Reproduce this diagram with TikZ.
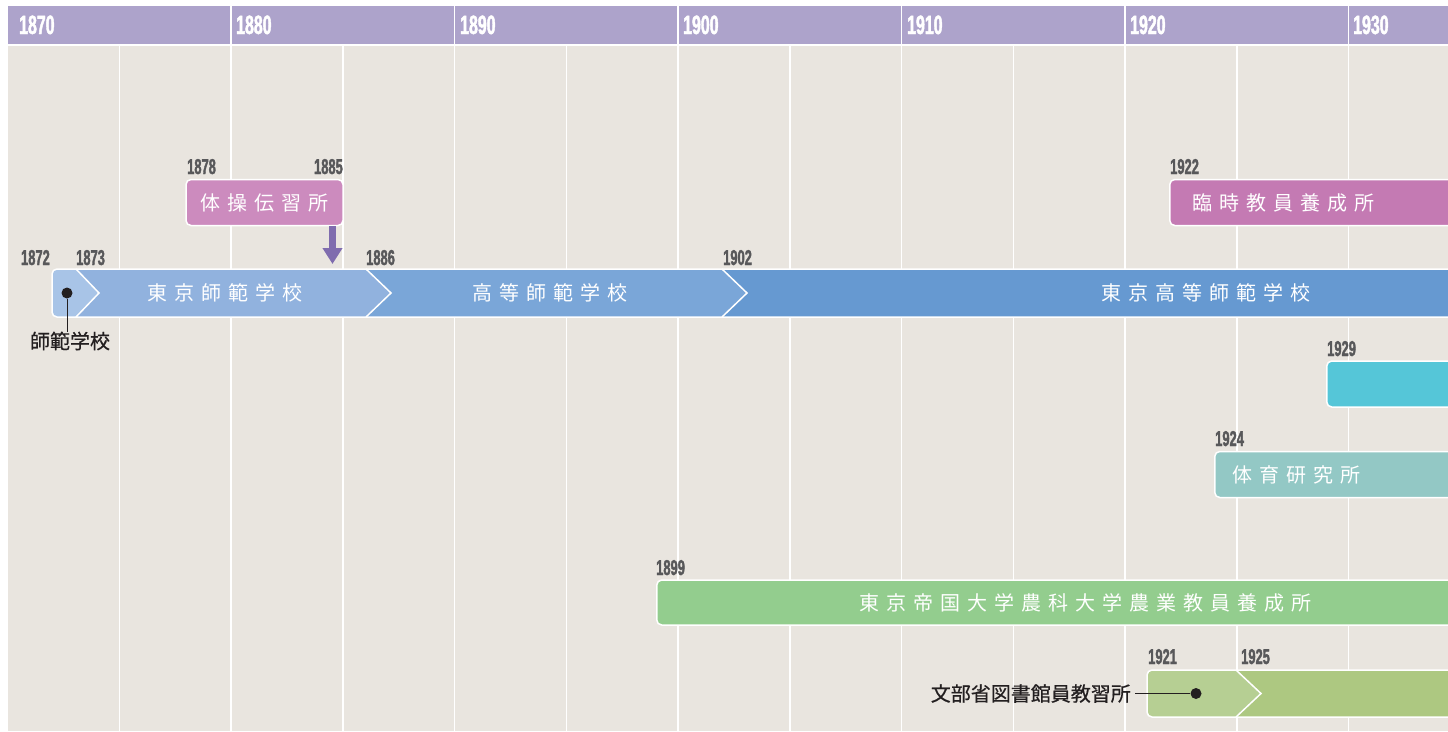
\documentclass[tikz,border=0pt]{standalone}
\usepackage{fontspec}
\usetikzlibrary{arrows.meta}
\newfontfamily\jp{Noto Sans CJK JP}
\newfontfamily\jpm[FakeBold=0.6]{Noto Sans CJK JP}
\newfontfamily\yrfont[FakeStretch=0.6,FakeBold=1.6]{Liberation Sans}
\definecolor{bgc}{HTML}{E9E5DF}
\definecolor{hdrc}{HTML}{ADA3CB}
\definecolor{segA}{HTML}{A8C4E7}
\definecolor{segB}{HTML}{91B2DE}
\definecolor{segC}{HTML}{7AA6D8}
\definecolor{segD}{HTML}{6699D1}
\definecolor{taisoc}{HTML}{CC8BBE}
\definecolor{rinjic}{HTML}{C47AB3}
\definecolor{cyanc}{HTML}{55C6D8}
\definecolor{tealc}{HTML}{93C8C5}
\definecolor{greenc}{HTML}{93CD8E}
\definecolor{libA}{HTML}{B6CF93}
\definecolor{libB}{HTML}{ADC881}
\definecolor{arrowc}{HTML}{7F6CAE}
\definecolor{yrc}{HTML}{58585A}
\definecolor{txtc}{HTML}{231F20}
\newcommand\mylsp[1]{\mylspA#1\relax}
\def\mylspA#1{#1\mylspB}
\def\mylspB#1{\ifx#1\relax\else\hspace{7pt}#1\expandafter\mylspB\fi}
\tikzset{
  yr/.style={font=\yrfont\bfseries\fontsize{21.5}{24}\selectfont, text=yrc, inner sep=0pt, anchor=base west},
  hyr/.style={font=\yrfont\bfseries\fontsize{26.5}{30}\selectfont, text=white, inner sep=0pt, anchor=base west},
  bartxt/.style={font=\jp\fontsize{20}{24}\selectfont, text=white, inner sep=0pt},
  lbl/.style={font=\jpm\fontsize{20}{24}\selectfont, text=txtc, inner sep=0pt},
  bar/.style={draw=white, line width=1.5pt, rounded corners=5pt, inner sep=0pt},
  outline/.style={draw=white, line width=1.5pt},
  grid/.style={white, line width=1.5pt},
  dotc/.style={circle, fill=txtc, inner sep=0pt, minimum size=11pt},
  connector/.style={draw=txtc, line width=1pt},
}
\begin{document}
\begin{tikzpicture}[x=1pt, y=-1pt]
\useasboundingbox (0,0) rectangle (1448,731);
\clip (0,0) rectangle (1448,731);
\fill[white] (0,0) rectangle (1448,731);
% body
\fill[bgc] (8,46) rectangle (1460,731);
\foreach \k in {1,...,12} {
  \draw[grid] (7.5+\k*111.75,46) -- (7.5+\k*111.75,731);
}
% header
\fill[hdrc] (8,6) rectangle (1460,43.5);
\foreach \k in {2,4,...,12} {
  \draw[grid] (7.5+\k*111.75,6) -- (7.5+\k*111.75,43.5);
}
\node[hyr] (h1870) at (19,34) {1870};
\node[hyr] (h1880) at (236,34) {1880};
\node[hyr] (h1890) at (460,34) {1890};
\node[hyr] (h1900) at (683,34) {1900};
\node[hyr] (h1910) at (907,34) {1910};
\node[hyr] (h1920) at (1130,34) {1920};
\node[hyr] (h1930) at (1353,34) {1930};

% main bar
\fill[segA, rounded corners=5pt] (52,269) rectangle (100,317);
\fill[segB] (76,269) -- (366,269) -- (391,293) -- (366,317) -- (76,317) -- (99,293) -- cycle;
\fill[segC] (366,269) -- (722,269) -- (747,293) -- (722,317) -- (366,317) -- (391,293) -- cycle;
\fill[segD] (722,269) -- (1470,269) -- (1470,317) -- (722,317) -- (747,293) -- cycle;
\draw[outline, rounded corners=5pt] (52,269) rectangle (1470,317);
\draw[outline] (76,269) -- (99,293) -- (76,317);
\draw[outline] (366,269) -- (391,293) -- (366,317);
\draw[outline] (722,269) -- (747,293) -- (722,317);
\node[bartxt] (tokyoshihan) at (225,293) {\mylsp{東京師範学校}};
\node[bartxt] (koto) at (550,293) {\mylsp{高等師範学校}};
\node[bartxt] (tokyokoto) at (1205.5,293) {\mylsp{東京高等師範学校}};
\node[yr, anchor=base east] (y1872) at (50,265) {1872};
\node[yr] (y1873) at (76,265) {1873};
\node[yr] (y1886) at (366,265) {1886};
\node[yr] (y1902) at (723,265) {1902};

% shihan gakko dot
\node[dotc] (dot1) at (67,293) {};
\node[lbl] (shihan) at (70,341) {師範学校};
\draw[connector] (dot1) -- (dot1 |- shihan.north);

% taiso denshujo
\node[bar, fill=taisoc, minimum width=157pt, minimum height=46pt, bartxt] (taiso) at (264.5,202.5) {\mylsp{体操伝習所}};
\node[yr] (y1878) at (187,174) {1878};
\node[yr, anchor=base east] (y1885) at (343,174) {1885};
\coordinate (arrowend) at (332.5,264);
\draw[arrowc, line width=7pt, -{Triangle[width=19pt,length=16pt]}] (taiso.south -| arrowend) -- (arrowend);

% rinji
\node[bar, fill=rinjic, minimum width=300pt, minimum height=46pt, anchor=west] (rinji) at (1169,202.5) {};
\node[bartxt] (rinjitxt) at (1283.5,203) {\mylsp{臨時教員養成所}};
\node[yr] (y1922) at (1170,174) {1922};

% cyan 1929
\node[bar, fill=cyanc, minimum width=300pt, minimum height=46pt, anchor=west] (cyanbar) at (1326,384) {};
\node[yr] (y1929) at (1327,356) {1929};

% taiiku
\node[bar, fill=tealc, minimum width=300pt, minimum height=46pt, anchor=west] (taiiku) at (1214,474.5) {};
\node[bartxt] (taiikutxt) at (1296.5,475) {\mylsp{体育研究所}};
\node[yr] (y1924) at (1215,446) {1924};

% green 1899
\node[bar, fill=greenc, minimum width=820pt, minimum height=45pt, anchor=west] (nogaku) at (656,602.5) {};
\node[bartxt] (nogakutxt) at (1085,603) {\mylsp{東京帝国大学農科大学農業教員養成所}};
\node[yr] (y1899) at (656,575) {1899};

% library
\fill[libA, rounded corners=5pt] (1147,670) rectangle (1262,717);
\fill[libB] (1236,670) -- (1470,670) -- (1470,717) -- (1236,717) -- (1261,693.5) -- cycle;
\draw[outline, rounded corners=5pt] (1147,670) rectangle (1470,717);
\draw[outline] (1236,670) -- (1261,693.5) -- (1236,717);
\node[yr] (y1921) at (1148,664) {1921};
\node[yr] (y1925) at (1241,664) {1925};
\node[dotc] (dot2) at (1196,693.5) {};
\node[lbl, anchor=east] (toshokan) at (1131,693.5) {文部省図書館員教習所};
\coordinate (tosend) at ([xshift=4pt]toshokan.east);
\draw[connector] (tosend) -- (dot2);
\end{tikzpicture}
\end{document}
